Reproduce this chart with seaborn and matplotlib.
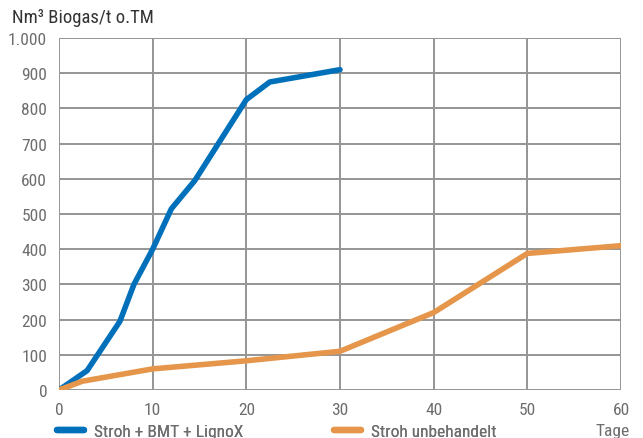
import pandas as pd
import numpy as np
import matplotlib
matplotlib.use("Agg")
import matplotlib.pyplot as plt
from matplotlib import font_manager
from matplotlib.ticker import FuncFormatter
import seaborn as sns

# Values
tage_bmt = [0, 3, 6.5, 8, 10, 12, 14.5, 20, 22.5, 30]
gas_bmt = [0, 55, 195, 300, 400, 515, 595, 825, 875, 910]
tage_roh = [0, 2.5, 10, 20, 30, 40, 50, 60]
gas_roh = [0, 25, 60, 83, 110, 220, 388, 410]
labels = ["Stroh + BMT + LignoX", "Stroh unbehandelt"]
colors = ["#0070BA", "#E5964B"]

df = pd.concat([
    pd.DataFrame({"Tage": tage_bmt, "Gas": gas_bmt, "Serie": labels[0]}),
    pd.DataFrame({"Tage": tage_roh, "Gas": gas_roh, "Serie": labels[1]}),
])

sns.set_style("white")

# pick a narrow font if one is around
names = {f.name for f in font_manager.fontManager.ttflist}
narrow = [n for n in ["Liberation Sans Narrow", "Roboto Condensed", "Open Sans Condensed",
                      "DejaVu Sans Condensed"] if n in names]
plt.rcParams['font.family'] = narrow + ['DejaVu Sans']
plt.rcParams['font.stretch'] = "condensed"
fs = 12.5
grey = "#6d6d6d"

fig = plt.figure(figsize=(6.43, 4.39), dpi=100)
ax = fig.add_axes([59 / 643, 1 - 391 / 439, (621 - 59) / 643, (391 - 39) / 439])

sns.lineplot(data=df, x="Tage", y="Gas", hue="Serie", palette=colors,
             linewidth=4.0, ax=ax, sort=False, legend=False,
             solid_capstyle="round", solid_joinstyle="round", zorder=3)

ax.set_xlim(0, 60)
ax.set_ylim(0, 1000)
ax.set_xticks(range(0, 61, 10))
ax.set_yticks(range(0, 1001, 100))
ax.yaxis.set_major_formatter(FuncFormatter(lambda v, p: f"{int(v):,}".replace(",", ".")))
ax.grid(True, color="#959595", linewidth=1.4)
for s in ax.spines.values():
    s.set_visible(False)
ax.tick_params(length=0, labelsize=fs, colors=grey)
ax.tick_params(axis="y", pad=8.5)
ax.tick_params(axis="x", pad=8.5)
ax.set_xlabel("")
ax.set_ylabel("")

fig.text(12 / 643, 1 - 18 / 439, "Nm³ Biogas/t o.TM", fontsize=13.5,
         color="#333333", va="center", ha="left")
fig.text(630 / 643, 1 - 432 / 439, "Tage", fontsize=fs,
         color=grey, va="center", ha="right")

# two legends, one per series, placed under the axis
for lab, c, x0 in zip(labels, colors, [57, 334]):
    h = plt.Line2D([], [], color=c, linewidth=4.6, solid_capstyle="round")
    leg = fig.legend([h], [lab], loc="center left", bbox_to_anchor=(x0 / 643, 1 - 432 / 439),
                     frameon=False, fontsize=fs, labelcolor=grey,
                     handlelength=1.55, handletextpad=0.6,
                     borderaxespad=0, borderpad=0)
    fig.add_artist(leg)

fig.savefig("out.png", dpi=100)
